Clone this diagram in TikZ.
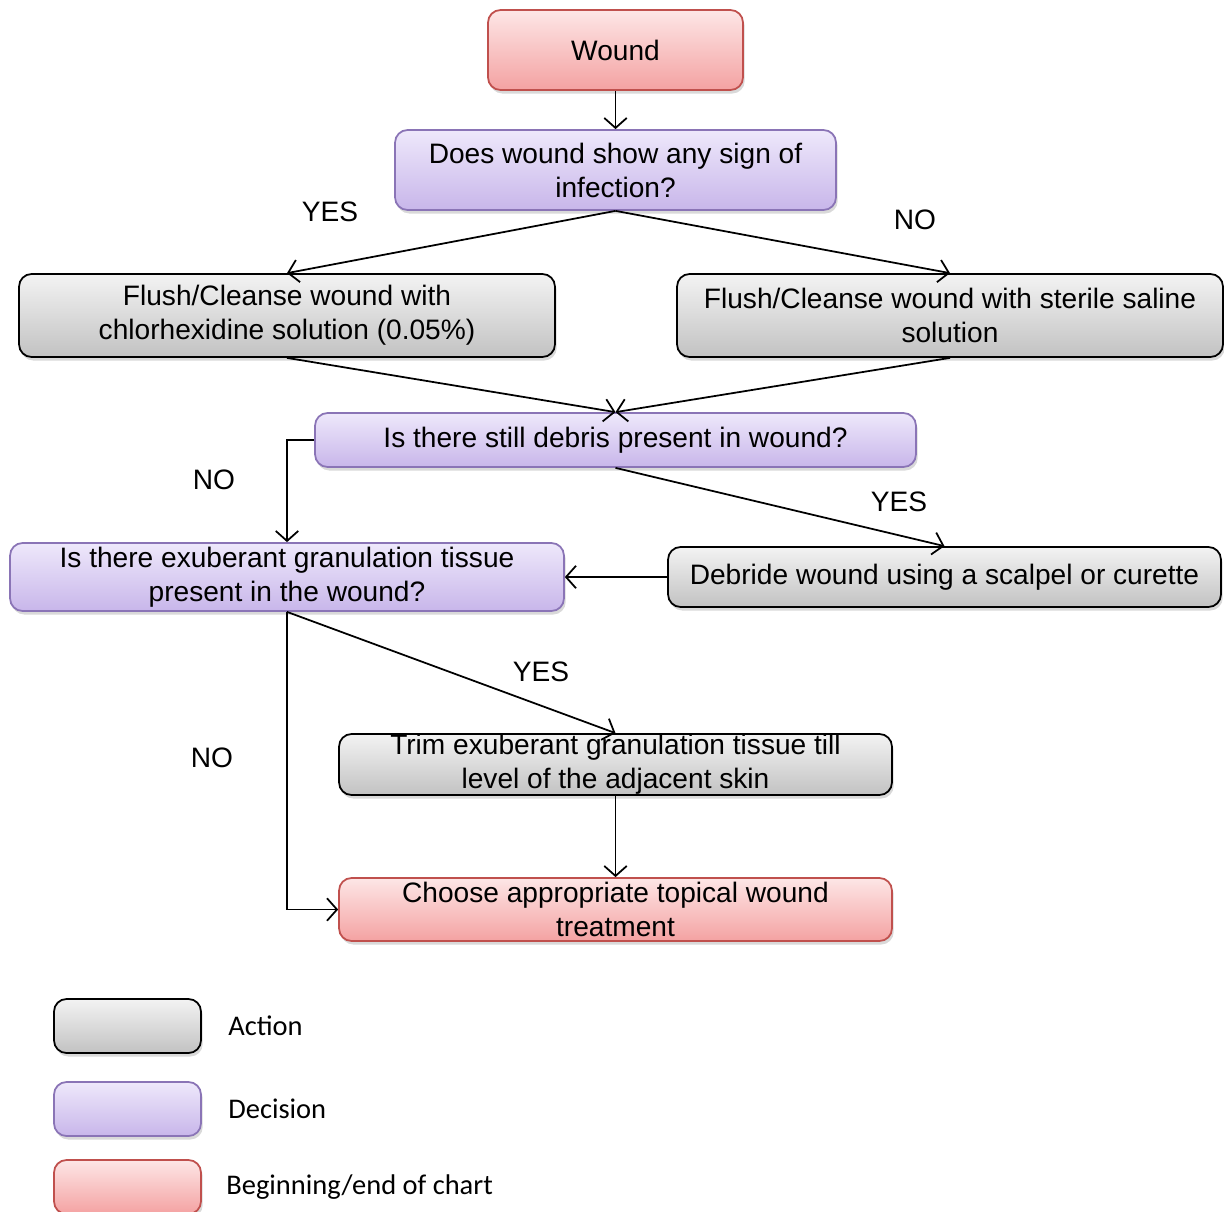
\documentclass[tikz,border=0pt]{standalone}
\usepackage{fontspec}
\setmainfont{Liberation Sans}
\newfontfamily\legendfont{Carlito}
\usetikzlibrary{arrows.meta,positioning,shadows}
\definecolor{actA}{HTML}{F3F3F3}
\definecolor{actB}{HTML}{C2C2C2}
\definecolor{decA}{HTML}{EEE8FB}
\definecolor{decB}{HTML}{C8B6EA}
\definecolor{decL}{HTML}{8A74B6}
\definecolor{trmA}{HTML}{FDE6E6}
\definecolor{trmB}{HTML}{F4A2A2}
\definecolor{trmL}{HTML}{C0504D}
\tikzset{
  box/.style={rectangle, rounded corners=2.5mm, align=center, inner xsep=3pt, inner ysep=0pt,
              font=\fontsize{16}{19.3}\selectfont, line width=1pt,
              drop shadow={shadow xshift=1pt, shadow yshift=-2pt, opacity=0.3}},
  act/.style={box, draw=black, top color=actA, bottom color=actB},
  dec/.style={box, draw=decL, top color=decA, bottom color=decB},
  trm/.style={box, draw=trmL, top color=trmA, bottom color=trmB},
  fl/.style={-{Straight Barb[length=2mm,width=4.5mm]}, line width=1pt},
  lbl/.style={font=\fontsize{16}{19}\selectfont, inner sep=1pt},
  legtxt/.style={font=\legendfont\fontsize{16.2}{19}\selectfont, anchor=west, inner sep=0pt},
}
\begin{document}
\begin{tikzpicture}[x=0.02cm, y=-0.02cm]
\useasboundingbox (0,0) rectangle (1224,1211);
% flow chart
\node[trm, minimum width=5.1cm, minimum height=1.6cm] (wound) at (615.5,50) {Wound};
\node[dec, minimum width=8.82cm, minimum height=1.6cm] (infect) at (615.5,170)
  {Does wound show any sign of\\ infection?};
\node[act, minimum width=10.72cm, minimum height=1.66cm] (chlor) at (287,315.5)
  {Flush/Cleanse wound with\\ chlorhexidine solution (0.05\%)};
\node[act, minimum width=10.92cm, minimum height=1.66cm] (saline) at (950,315.5)
  {Flush/Cleanse wound with sterile saline\\ solution};
\node[dec, minimum width=12.02cm, minimum height=1.08cm] (debris) at (615.5,440)
  {Is there still debris present in wound?};
\node[dec, minimum width=11.08cm, minimum height=1.36cm] (exub) at (287,577)
  {Is there exuberant granulation tissue\\ present in the wound?};
\node[act, minimum width=11.06cm, minimum height=1.2cm] (debride) at (944.5,577)
  {Debride wound using a scalpel or curette};
\node[act, minimum width=11.06cm, minimum height=1.22cm] (trim) at (615.5,764.5)
  {Trim exuberant granulation tissue till\\ level of the adjacent skin};
\node[trm, minimum width=11.06cm, minimum height=1.26cm] (choose) at (615.5,909.5)
  {Choose appropriate topical wound\\ treatment};
% answers
\node[lbl] (yes1) at (330,212) {YES};
\node[lbl] (no1) at (915,220) {NO};
\node[lbl] (no2) at (214,480) {NO};
\node[lbl] (yes2) at (899,502) {YES};
\node[lbl] (yes3) at (541,672) {YES};
\node[lbl] (no3) at (212,758) {NO};
% connectors
\draw[fl] (wound) -- (infect);
\draw[fl] (infect.south) -- (chlor.north);
\draw[fl] (infect.south) -- (saline.north);
\draw[fl] (chlor.south) -- (debris.north);
\draw[fl] (saline.south) -- (debris.north);
\draw[fl] (debris.west) -| (exub.north);
\draw[fl] (debris.south) -- (debride.north);
\draw[fl] (debride) -- (exub);
\draw[fl] (exub.south) -- (trim.north);
\draw[fl] (exub.south) |- (choose.west);
\draw[fl] (trim) -- (choose);
% legend
\node[act, minimum width=2.94cm, minimum height=1.08cm] (legact) at (127.5,1026) {};
\node[dec, minimum width=2.94cm, minimum height=1.08cm] (legdec) at (127.5,1109) {};
\node[trm, minimum width=2.94cm, minimum height=1.08cm] (legtrm) at (127.5,1187) {};
\node[legtxt] (tact) at (228,1026) {Action};
\node[legtxt] (tdec) at (228,1109) {Decision};
\node[legtxt] (ttrm) at (226,1187) {Beginning/end of chart};
\end{tikzpicture}
\end{document}
